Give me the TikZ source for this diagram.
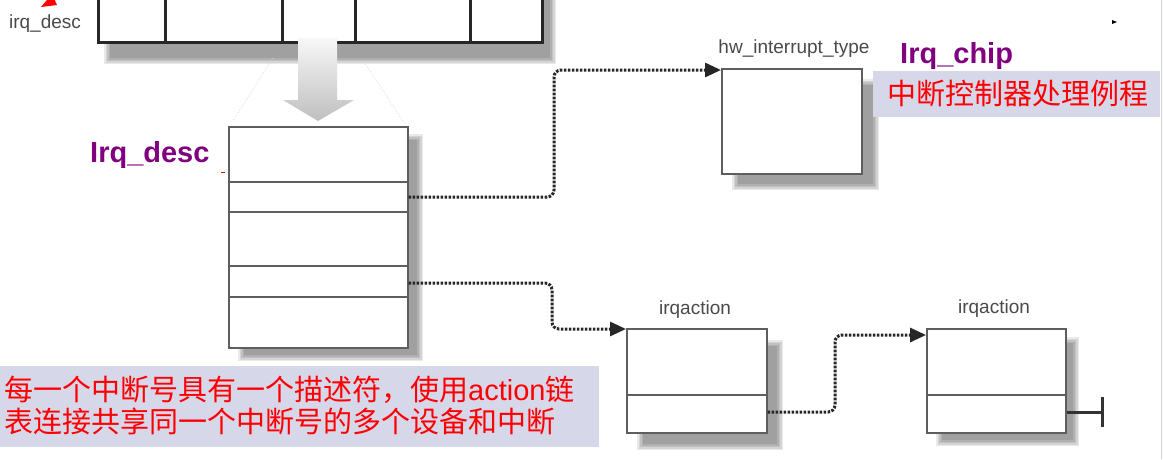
\documentclass[tikz,border=0pt]{standalone}
\usepackage{fontspec}
\setmainfont{Liberation Sans}
\newfontfamily\cjk{Noto Sans CJK SC}
\usetikzlibrary{arrows.meta}
\definecolor{irqpurple}{HTML}{800080}
\definecolor{lav}{HTML}{D7D7EA}
\definecolor{boxgray}{HTML}{5E5E5E}
\definecolor{lblgray}{HTML}{4A4A4A}
\newcommand\mydropshade[4]{%
  \foreach \k in {0,1.5,3,4.5,6}{%
    \fill[black,opacity=0.085] ({#1+\k-3},{#2+\k-3}) rectangle ({#3-\k+3},{#4-\k+3});}}
\begin{document}
\begin{tikzpicture}[x=1pt,y=-1pt,
  structbox/.style={draw=boxgray, line width=1.6pt, fill=white, inner sep=0pt, anchor=north west},
  divider/.style={draw=boxgray, line width=1.6pt},
  arrline/.style={draw=black!85, line width=3pt},
  conn/.style={draw=black!85, line width=3pt, dash pattern=on 2.6pt off 1.4pt,
     rounded corners=7pt, -{Triangle[length=16pt,width=14pt]}},
  term/.style={draw=black!80, line width=3pt},
  lbl/.style={font=\fontsize{19}{22}\selectfont, text=lblgray, inner sep=0pt},
  plbl/.style={font=\bfseries\fontsize{29}{34}\selectfont, text=irqpurple, inner sep=0pt},
  cjktext/.style={font=\cjk\fontsize{29}{32}\selectfont, text=red, inner sep=0pt},
  note/.style={fill=lav, draw=none, inner sep=0pt, anchor=north west},
  zoomline/.style={draw=gray!30, line width=0.8pt, dotted}
]
\fill[white] (0,0) rectangle (1163,459);
\useasboundingbox (0,0) rectangle (1163,459);

% shadows
\mydropshade{107}{-20}{553}{61}
\mydropshade{241}{137}{420}{358}
\mydropshade{735}{82}{876}{187}
\mydropshade{640}{343}{780}{447}
\mydropshade{939}{340}{1076}{443}

% top array of irq_desc
\node[draw=black!85, line width=3pt, fill=white, inner sep=0pt, anchor=south west,
      minimum width=444pt, minimum height=64pt] (arr) at (97,44) {};
\foreach \xx in {165,282,355,470}{\draw[arrline] (\xx,-25) -- (\xx,44);}
\node[lbl, anchor=base] (arrlbl) at (45,28) {irq\_desc};
\fill[red] (41,7) -- (57,5) -- (52,-6) -- cycle;

% zoom lines
\draw[zoomline] (273,58) -- (232,122);
\draw[zoomline] (364,62) -- (405,124);

% big gray arrow
\shade[top color=gray!6, bottom color=gray!50]
  (298,38) -- (337,38) -- (337,100) -- (354,100) -- (318,121) -- (283,100) -- (298,100) -- cycle;

% irq_desc structure
\node[structbox, minimum width=179pt, minimum height=221pt] (desc) at (228,126) {};
\foreach \yy in {182,212,266,297}{\draw[divider] (desc.west |- 0,\yy) -- (desc.east |- 0,\yy);}
\node[plbl, anchor=base west] (desclbl) at (90,162) {Irq\_desc};
\draw[red, line width=0.8pt] (221,172) -- (225,172);

% hw_interrupt_type
\node[structbox, minimum width=140pt, minimum height=105pt] (hw) at (721,68) {};
\node[lbl, anchor=base] (hwlbl) at (794,53) {hw\_interrupt\_type};
\node[plbl, anchor=base west] (chiplbl) at (900,63) {Irq\_chip};
\node[note, minimum width=287pt, minimum height=46pt] (note1) at (873,71) {};
\node[cjktext, anchor=base west] (t1) at (887,104) {中断控制器处理例程};

% irqaction boxes
\node[structbox, minimum width=140pt, minimum height=104pt] (ia1) at (626,328) {};
\draw[divider] (ia1.west |- 0,395) -- (ia1.east |- 0,395);
\node[lbl, anchor=base] (ia1lbl) at (695,314) {irqaction};
\node[structbox, minimum width=139pt, minimum height=104pt] (ia2) at (926,328) {};
\draw[divider] (ia2.west |- 0,395) -- (ia2.east |- 0,395);
\node[lbl, anchor=base] (ia2lbl) at (994,313) {irqaction};

% connectors
\coordinate (d2) at (desc.east |- 0,197);
\coordinate (d4) at (desc.east |- 0,283);
\coordinate (a1) at (ia1.east |- 0,412);
\draw[conn] (d2) -- (554,197) -- (554,70) -- (hw.west |- 0,70);
\draw[conn] (d4) -- (552,283) -- (552,329) -- (ia1.west |- 0,329);
\draw[conn] (a1) -- (835,412) -- (835,335) -- (ia2.west |- 0,335);
\coordinate (tend) at (1102,412);
\draw[term] (ia2.east |- 0,412) -- (tend);
\draw[term] ([yshift=15pt]tend) -- ([yshift=-15pt]tend);

% bottom note
\node[note, minimum width=599pt, minimum height=81pt] (note2) at (0,366) {};
\node[cjktext, anchor=base west] (t2) at (4,400) {每一个中断号具有一个描述符，使用{\rmfamily action}链};
\node[cjktext, anchor=base west] (t3) at (4,432) {表连接共享同一个中断号的多个设备和中断};

% small marks
\fill[black] (1112,20) -- (1117,22) -- (1112,24) -- cycle;
\draw[gray!35, line width=0.8pt] (1161,0) -- (1161,459);
\end{tikzpicture}
\end{document}
